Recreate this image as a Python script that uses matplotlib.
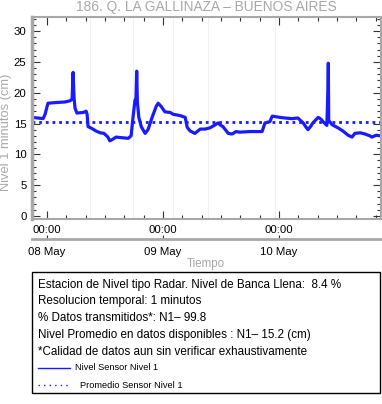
import numpy as np
import matplotlib
matplotlib.use('Agg')
import matplotlib.pyplot as plt
from matplotlib.lines import Line2D

plt.rcParams['font.family'] = ['Liberation Sans', 'DejaVu Sans']

# hours since 08 May 00:00, level in cm
horas = [-3.1, -1.9, -0.8, -0.4, 0.2, 1.7, 3.7, 4.8, 5.2, 5.4, 5.6, 5.8, 6.2, 7.5,
         8.1, 8.3, 8.5, 9.3, 10.1, 11.0, 11.8, 12.6, 13.0, 13.5, 14.3, 15.5, 16.8,
         17.4, 17.8, 18.2, 18.4, 18.56, 18.7, 19.0, 19.5, 20.3, 20.9, 21.7, 22.6,
         23.0, 23.6, 24.4, 25.5, 26.1, 27.5, 28.6, 29.0, 29.6, 30.6, 31.7, 32.7,
         33.7, 34.6, 35.4, 35.8, 36.4, 37.5, 38.3, 39.1, 39.9, 42.0, 44.5, 45.1,
         46.1, 46.6, 47.4, 48.2, 49.2, 50.7, 51.9, 53.0, 53.6, 54.0, 54.6, 55.0,
         56.1, 56.7, 57.1, 57.9, 58.14, 58.2, 58.28, 58.6, 59.0, 60.2, 61.2, 62.3,
         63.1, 63.7, 64.8, 65.8, 66.8, 67.2, 68.1, 69.1]
nivel = [16.0, 15.9, 15.8, 16.5, 18.3, 18.4, 18.5, 18.7, 19.0, 23.3, 19.2, 17.5, 16.7, 16.8,
         17.0, 16.5, 14.5, 14.2, 13.8, 13.5, 13.4, 12.8, 12.2, 12.4, 12.8, 12.7, 12.6,
         13.0, 16.0, 18.8, 18.8, 23.5, 18.5, 16.0, 14.5, 13.4, 14.0, 15.9, 17.8,
         18.3, 17.8, 16.9, 16.8, 16.5, 16.3, 16.0, 14.4, 13.8, 13.4, 14.1, 14.1,
         14.3, 14.7, 15.1, 14.8, 14.5, 13.4, 13.3, 13.7, 13.6, 13.7, 13.7, 15.1,
         15.3, 16.2, 16.1, 16.0, 15.9, 15.8, 15.9, 15.1, 14.4, 14.0, 14.6, 15.1,
         16.0, 15.7, 15.3, 14.7, 21.0, 24.8, 15.5, 15.2, 14.8, 14.3, 13.8, 13.1,
         12.8, 13.4, 13.5, 13.3, 13.0, 12.8, 13.1, 13.0]
promedio = 15.2
lineas_gris = [8.9, 17.8, 26.1, 33.3, 47.2]
dias = [0, 24, 48]
dias_txt = ['08 May', '09 May', '10 May']

titulo = '186. Q. LA GALLINAZA \u2013 BUENOS AIRES'
info = ['Estacion de Nivel tipo Radar. Nivel de Banca Llena:  8.4 %',
        'Resolucion temporal: 1 minutos',
        '% Datos transmitidos*: N1\u2013 99.8',
        'Nivel Promedio en datos disponibles : N1\u2013 15.2 (cm)',
        '*Calidad de datos aun sin verificar exhaustivamente']

W, H = 382, 404
fig = plt.figure(figsize=(W / 100, H / 100), dpi=100)
ax = fig.add_axes([32 / W, (H - 219) / H, 349 / W, 202 / H])

gris = '#a8a8a8'
azul = '#1a1aff'

for g in lineas_gris:
    ax.axvline(g, color='#f0f0f0', lw=0.8, zorder=0)
ax.plot(horas, nivel, color=azul, lw=2.3, solid_joinstyle='round')
ax.axhline(promedio, color=azul, lw=2.0, ls=(0, (1, 1.4)))

ax.set_xlim(-3.1, 69.1)
ax.set_ylim(-0.5, 32.3)
ax.set_yticks(range(0, 31, 5))
ax.set_yticks(range(0, 33), minor=True)
ax.set_xticks(dias)
ax.set_xticklabels(['00:00'] * 3)
ax.set_xticks([h for h in range(-4, 70, 4) if h % 24 != 0 and h > -3.1], minor=True)
ax.tick_params(which='both', direction='in', top=True, right=True, color='#333333',
               labelsize=8.2, pad=4)
ax.tick_params(which='major', length=6, width=0.8)
ax.tick_params(which='minor', length=3, width=0.8)
for s in ax.spines.values():
    s.set_color(gris)
    s.set_linewidth(1.5)
ax.spines['left'].set_linewidth(2.5)

sec = ax.secondary_xaxis(-0.099)
sec.set_xticks(dias)
sec.set_xticklabels(dias_txt)
sec.tick_params(direction='in', length=3, color='#333333', labelsize=8.2, pad=6)
sec.spines['bottom'].set_color(gris)
sec.spines['bottom'].set_linewidth(2)

fig.text(6 / W, 1 - 132 / H, 'Nivel 1 minutos (cm)', color=gris, fontsize=9.3,
         rotation=90, ha='center', va='center')
fig.text(206 / W, 1 - 7 / H, titulo, color=gris, fontsize=9.9, ha='center', va='center')
fig.text(206 / W, 1 - 264 / H, 'Tiempo', color=gris, fontsize=8.3, ha='center', va='center')

# info box
fig.patches.append(plt.Rectangle((32 / W, 1 - 393 / H), 348 / W, 121 / H, fill=False,
                                 edgecolor='black', lw=1.0, transform=fig.transFigure))
ys = [285, 301, 318, 335, 352]
for t, y in zip(info, ys):
    fig.text(38 / W, 1 - y / H, t, fontsize=8.4, ha='left', va='center')
fig.lines.append(Line2D([38 / W, 70 / W], [1 - 368 / H] * 2, color=azul, lw=1.0,
                        transform=fig.transFigure))
fig.text(75 / W, 1 - 368 / H, 'Nivel Sensor Nivel 1', fontsize=6.6, ha='left', va='center')
fig.lines.append(Line2D([38 / W, 70 / W], [1 - 385 / H] * 2, color=azul, lw=1.0,
                        ls=(0, (1, 3)), transform=fig.transFigure))
fig.text(80 / W, 1 - 385 / H, 'Promedio Sensor Nivel 1', fontsize=6.7, ha='left', va='center')

fig.savefig('out.png', dpi=100)
